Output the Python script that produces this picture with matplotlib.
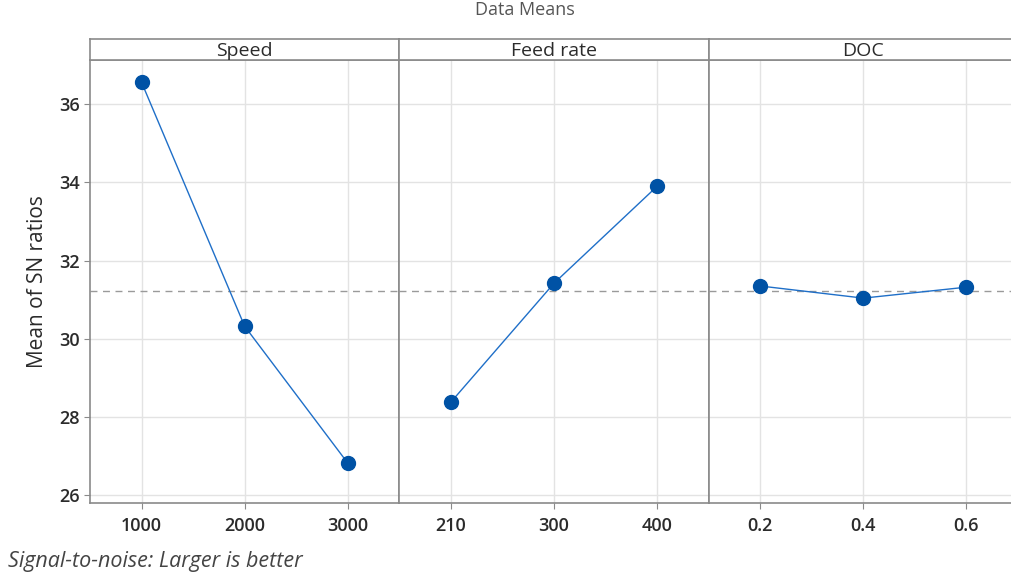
import matplotlib
matplotlib.use("Agg")
import matplotlib.pyplot as plt

plt.rcParams["font.family"] = ["Open Sans", "DejaVu Sans"]

# main effects for SN ratios (larger is better)
factors = ["Speed", "Feed rate", "DOC"]
speed_levels = ["1000", "2000", "3000"]
speed_sn = [36.56, 30.32, 26.82]
feed_levels = ["210", "300", "400"]
feed_sn = [28.38, 31.42, 33.90]
doc_levels = ["0.2", "0.4", "0.6"]
doc_sn = [31.35, 31.04, 31.32]

levels = [speed_levels, feed_levels, doc_levels]
values = [speed_sn, feed_sn, doc_sn]
grand_mean = sum(speed_sn + feed_sn + doc_sn) / 9

W, H = 1012, 572
fig = plt.figure(figsize=(W / 100, H / 100), dpi=100)

# the right panel runs a little past the picture edge, as in the original
left, right = 90 / W, 1018 / W
bottom, top = 1 - 503 / H, 1 - 60 / H
strip_top = 1 - 39 / H
pw = (right - left) / 3

frame = "#8a8a8a"
grid = "#e3e3e3"
txt = "#2b2b2b"
line_c = "#1f6fc8"
mark_c = "#0052a5"

for i, (name, lv, vals) in enumerate(zip(factors, levels, values)):
    x0 = left + i * pw
    ax = fig.add_axes([x0, bottom, pw, top - bottom])
    xs = list(range(len(lv)))
    ax.axhline(grand_mean, color="#9a9a9a", lw=1, ls=(0, (5, 4)), zorder=1)
    ax.plot(xs, vals, color=line_c, lw=1, zorder=2)
    ax.plot(xs, vals, "o", color=mark_c, ms=10, zorder=3)
    ax.set_xlim(-0.5, 2.5)
    ax.set_ylim(25.8, 37.13)
    ax.set_xticks(xs)
    ax.set_xticklabels(lv)
    ax.set_yticks([26, 28, 30, 32, 34, 36])
    ax.grid(True, color=grid, lw=1)
    ax.set_axisbelow(True)
    for s in ax.spines.values():
        s.set_color(frame)
        s.set_linewidth(1.2)
    ax.tick_params(axis="x", length=4, color=frame, labelsize=13, labelcolor=txt, pad=6)
    for t in ax.get_xticklabels():
        t.set_fontweight("semibold")
    if i == 0:
        ax.tick_params(axis="y", length=4, color=frame, labelsize=13, labelcolor=txt)
        for t in ax.get_yticklabels():
            t.set_fontweight("semibold")
        ax.set_ylabel("Mean of SN ratios", fontsize=15, color=txt, labelpad=8)
    else:
        ax.tick_params(axis="y", left=False, labelleft=False)

    # header strip
    sx = fig.add_axes([x0, top, pw, strip_top - top])
    sx.set_xticks([])
    sx.set_yticks([])
    for s in sx.spines.values():
        s.set_color(frame)
        s.set_linewidth(1.2)
    sx.text(0.5, 0.45, name, ha="center", va="center", fontsize=14,
            color=txt, transform=sx.transAxes)

fig.text(525 / W, 0.999, "Data Means", ha="center", va="top",
         fontsize=13, color="#555555")
fig.text(8 / W, 1 - 562 / H, "Signal-to-noise: Larger is better", ha="left",
         va="center", fontsize=15.5, style="italic", color="#444444")

fig.savefig("out.png", dpi=100)
